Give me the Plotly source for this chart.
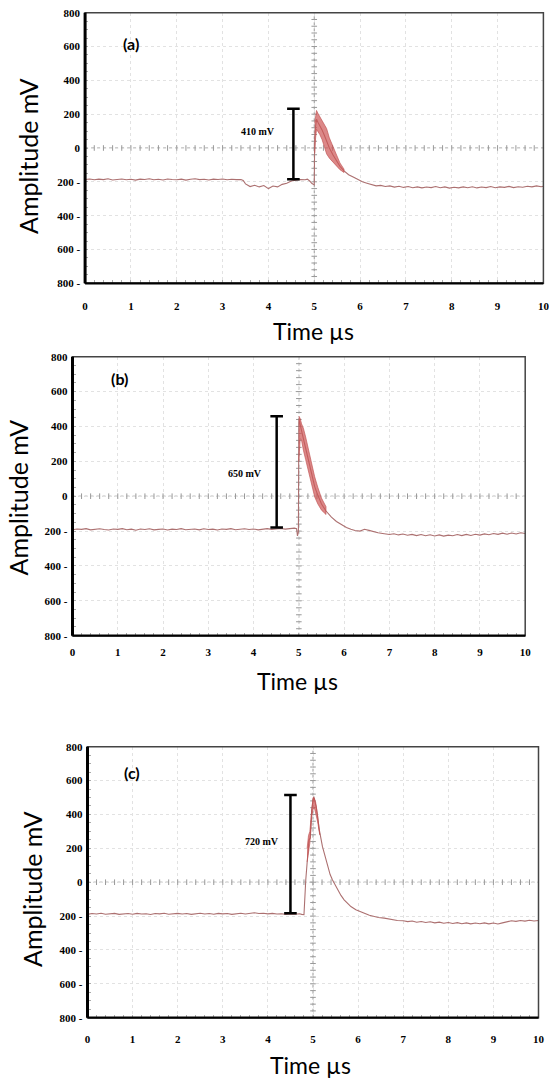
import plotly.graph_objects as go
import numpy as np

W, H = 549, 1082

# ---------------- data ----------------
T_A = [0.0,0.1,0.2,0.3,0.4,0.5,0.6,0.7,0.8,0.9,1.0,1.1,1.2,1.3,1.4,1.5,1.6,1.7,1.8,1.9,
       2.0,2.1,2.2,2.3,2.4,2.5,2.6,2.7,2.8,2.9,3.0,3.1,3.2,3.3,3.4,3.45,3.5,3.6,3.7,3.8,
       3.9,4.0,4.1,4.2,4.3,4.4,4.5,4.6,4.7,4.8,4.85,4.9,4.95,5.0,5.01,5.03,5.05,5.08,5.12,5.17,
       5.22,5.27,5.33,5.41,5.48,5.56,5.65,5.75,5.85,5.95,6.05,6.15,6.25,6.35,6.45,6.55,6.65,6.75,6.85,6.95,
       7.05,7.15,7.25,7.35,7.45,7.55,7.65,7.75,7.85,7.95,8.05,8.15,8.25,8.35,8.45,8.55,8.65,8.75,8.85,8.95,
       9.05,9.15,9.25,9.35,9.45,9.55,9.65,9.75,9.85,9.95,10.0]
V_A = [-186,-183,-188,-184,-187,-182,-189,-185,-183,-188,-185,-190,-184,-186,-182,-188,-185,-189,-183,-186,
       -188,-184,-190,-185,-182,-187,-185,-189,-184,-186,-183,-188,-185,-187,-186,-192,-212,-228,-220,-230,
       -222,-240,-225,-230,-215,-208,-195,-190,-186,-188,-184,-195,-210,-218,60,130,170,152,133,107,
       75,40,0,-42,-75,-108,-135,-158,-172,-188,-200,-208,-218,-224,-221,-228,-224,-231,-226,-233,
       -228,-235,-230,-236,-231,-234,-228,-235,-230,-237,-232,-236,-230,-235,-229,-236,-231,-234,-228,-235,
       -230,-233,-227,-234,-229,-232,-226,-230,-224,-229,-226]
BAND_T_A = [5.01,5.03,5.05,5.08,5.12,5.17,5.22,5.27,5.33,5.41,5.48,5.56,5.65]
BAND_HI_A = [150,200,222,205,187,165,140,115,60,5,-45,-88,-125]
BAND_LO_A = [-30,60,110,100,80,50,10,-35,-60,-88,-105,-128,-145]

T_B = [0.0,0.1,0.2,0.3,0.4,0.5,0.6,0.7,0.8,0.9,1.0,1.1,1.2,1.3,1.4,1.5,1.6,1.7,1.8,1.9,
       2.0,2.1,2.2,2.3,2.4,2.5,2.6,2.7,2.8,2.9,3.0,3.1,3.2,3.3,3.4,3.5,3.6,3.7,3.8,3.9,
       4.0,4.1,4.2,4.3,4.4,4.5,4.6,4.7,4.8,4.9,4.95,4.97,4.99,5.0,5.02,5.05,5.1,5.15,5.2,5.27,
       5.35,5.42,5.5,5.6,5.72,5.83,5.94,6.05,6.15,6.24,6.35,6.45,6.55,6.65,6.75,6.85,6.95,
       7.0,7.1,7.2,7.3,7.4,7.5,7.6,7.7,7.8,7.9,8.0,8.1,8.2,8.3,8.4,8.5,8.6,8.7,8.8,8.9,
       9.0,9.1,9.2,9.3,9.4,9.5,9.6,9.7,9.8,9.9,10.0]
V_B = [-192,-188,-190,-186,-193,-189,-187,-191,-194,-188,-190,-186,-192,-189,-195,-188,-191,-187,-193,-190,
       -188,-194,-189,-191,-186,-192,-190,-188,-193,-187,-191,-189,-194,-188,-190,-186,-192,-189,-187,-191,
       -188,-193,-189,-186,-190,-188,-185,-189,-184,-183,-186,-228,-205,445,420,380,330,275,215,140,
       55,5,-45,-85,-120,-145,-165,-180,-190,-197,-200,-190,-196,-204,-210,-214,-218,
       -220,-215,-222,-217,-224,-219,-226,-220,-227,-221,-228,-222,-229,-223,-227,-220,-226,-219,-225,-218,
       -223,-216,-221,-214,-219,-212,-218,-211,-217,-210,-214]
BAND_T_B = [5.0,5.03,5.06,5.1,5.15,5.2,5.27,5.35,5.42,5.5,5.6]
BAND_HI_B = [460,445,415,390,340,283,200,111,50,-11,-60]
BAND_LO_B = [200,330,320,264,210,149,75,-4,-45,-80,-105]

T_C = [0.0,0.1,0.2,0.3,0.4,0.5,0.6,0.7,0.8,0.9,1.0,1.1,1.2,1.3,1.4,1.5,1.6,1.7,1.8,1.9,
       2.0,2.1,2.2,2.3,2.4,2.5,2.6,2.7,2.8,2.9,3.0,3.1,3.2,3.3,3.4,3.5,3.6,3.7,3.8,3.9,
       4.0,4.1,4.2,4.3,4.4,4.5,4.6,4.7,4.75,4.8,4.84,4.88,4.91,4.94,4.97,5.0,5.02,5.04,5.07,5.1,
       5.14,5.21,5.27,5.32,5.38,5.43,5.54,5.62,5.69,5.77,5.84,5.95,6.05,6.14,6.25,6.35,6.45,6.58,6.7,6.87,
       7.0,7.1,7.2,7.3,7.4,7.5,7.6,7.7,7.8,7.9,8.0,8.1,8.2,8.3,8.4,8.5,8.6,8.7,8.8,8.9,
       9.0,9.1,9.2,9.3,9.4,9.5,9.6,9.7,9.8,9.9,10.0]
V_C = [-190,-185,-188,-183,-189,-186,-184,-190,-187,-185,-189,-184,-188,-186,-191,-185,-187,-183,-189,-186,
       -184,-188,-185,-190,-186,-183,-188,-185,-189,-184,-187,-185,-190,-186,-183,-188,-184,-180,-185,-183,
       -187,-184,-188,-186,-190,-187,-189,-186,-190,-192,14,190,250,260,428,480,505,480,446,390,
       309,210,150,92,45,14,-45,-78,-104,-128,-144,-162,-175,-183,-195,-203,-208,-212,-218,-226,
       -228,-233,-229,-236,-232,-238,-234,-240,-236,-242,-238,-244,-239,-245,-240,-246,-241,-245,-240,-246,
       -241,-247,-240,-232,-228,-231,-226,-230,-225,-229,-226]
BAND_T_C = [4.87,4.9,4.93,4.97,5.0,5.03,5.06,5.1,5.15]
BAND_HI_C = [200,275,300,440,500,495,470,400,300]
BAND_LO_C = [120,170,230,380,430,440,420,360,280]

LABELS = ["(a)", "(b)", "(c)"]
LABEL_POS = [(1.01, 620), (1.03, 677), (0.98, 645)]
DIFF_TEXT = ["410 mV", "650 mV", "720 mV"]
DIFF_TEXT_POS = [(3.77, 100), (3.81, 130), (3.86, 240)]
BAR_X = [4.545, 4.51, 4.5]
BAR_LO = [-185, -180, -183]
BAR_HI = [232, 459, 515]

Y_TICKS = [800, 600, 400, 200, 0, -200, -400, -600, -800]
Y_TICKTEXT = ["800", "600", "400", "200", "0", "200 -", "400 -", "600 -", "800 -"]
X_TICKS = [0, 1, 2, 3, 4, 5, 6, 7, 8, 9, 10]

# ---------------- layout geometry (pixels) ----------------
# (left, right, top, bottom) of each plot area
PANELS = [(85.1, 543.4, 12.7, 283.3), (72.5, 525.2, 356.7, 635.7), (87.5, 538.5, 746.7, 1017.7)]
XLAB_STANDOFF = [15, 8, 13]
YTITLE_POS = [(28, 156), (17.5, 498), (32, 889)]
XTITLE_POS = [(313, 331), (297, 681), (310, 1065)]

def px(x):
    return x / W

def py(y):
    return 1 - y / H

series = [(T_A, V_A, BAND_T_A, BAND_HI_A, BAND_LO_A),
          (T_B, V_B, BAND_T_B, BAND_HI_B, BAND_LO_B),
          (T_C, V_C, BAND_T_C, BAND_HI_C, BAND_LO_C)]

fig = go.Figure()
TRACE_COL = "rgb(172,112,112)"
BAND_COL = "rgba(205,85,85,0.7)"
GRID_COL = "#e2e2e2"
CROSS_COL = "#999999"
serif = "Liberation Serif"
sans = "Lato"

shapes = []
annotations = []
for i, (t, v, bt, bhi, blo) in enumerate(series):
    sfx = "" if i == 0 else str(i + 1)
    xa, ya = "x" + sfx, "y" + sfx
    # crosshair tick marks (decoration)
    cx = np.arange(0.2, 10.0, 0.2)
    fig.add_trace(go.Scatter(x=cx, y=np.zeros_like(cx), mode="markers", xaxis=xa, yaxis=ya,
                             marker=dict(symbol="line-ns", size=4, line=dict(color=CROSS_COL, width=1)),
                             hoverinfo="skip", showlegend=False))
    cy = np.arange(-760, 800, 40)
    fig.add_trace(go.Scatter(x=np.full(cy.shape, 5.0), y=cy, mode="markers", xaxis=xa, yaxis=ya,
                             marker=dict(symbol="line-ew", size=4, line=dict(color=CROSS_COL, width=1)),
                             hoverinfo="skip", showlegend=False))
    # main trace
    fig.add_trace(go.Scatter(x=t, y=v, mode="lines", xaxis=xa, yaxis=ya,
                             line=dict(color=TRACE_COL, width=1.1), showlegend=False))
    # noisy band around the pulse
    fig.add_trace(go.Scatter(x=list(bt) + list(bt)[::-1], y=list(bhi) + list(blo)[::-1],
                             mode="lines", fill="toself", fillcolor=BAND_COL, xaxis=xa, yaxis=ya,
                             line=dict(color="rgba(190,80,80,0.8)", width=0.8), showlegend=False))
    # amplitude bar
    fig.add_trace(go.Scatter(x=[BAR_X[i], BAR_X[i]], y=[BAR_LO[i], BAR_HI[i]], mode="lines+markers",
                             xaxis=xa, yaxis=ya, line=dict(color="black", width=2.5),
                             marker=dict(symbol="line-ew", size=9, line=dict(color="black", width=2.5)),
                             showlegend=False))
    l, r, tp, bt_ = PANELS[i]
    fig.layout["xaxis" + sfx] = dict(domain=[px(l), px(r)], anchor=ya, range=[0, 10],
                                     tickvals=X_TICKS, ticks="", showline=False, zeroline=False,
                                     showgrid=True, gridcolor=GRID_COL, griddash="dot", gridwidth=1,
                                     tickfont=dict(family=serif, size=11, color="black", weight="bold"),
                                     ticklabelstandoff=XLAB_STANDOFF[i], ticklabeloverflow="allow",
                                     minor=dict(ticks="inside", dtick=0.2, ticklen=3, tickcolor="#aaa",
                                                showgrid=False),
                                     mirror="allticks", automargin=False)
    fig.layout["yaxis" + sfx] = dict(domain=[py(bt_), py(tp)], anchor=xa, range=[-800, 800],
                                     tickvals=Y_TICKS, ticktext=Y_TICKTEXT, ticks="", showline=False,
                                     zeroline=False, showgrid=True, gridcolor=GRID_COL, griddash="dot",
                                     gridwidth=1, ticklabeloverflow="allow",
                                     tickfont=dict(family=serif, size=11, color="black", weight="bold"),
                                     ticklabelstandoff=4,
                                     minor=dict(ticks="inside", dtick=50, ticklen=3, tickcolor="#aaa",
                                                showgrid=False),
                                     mirror="allticks", automargin=False)
    xd, yd = xa + " domain", ya + " domain"
    # crosshair lines
    shapes.append(dict(type="line", xref=xa, yref=yd, x0=5, x1=5, y0=0, y1=1,
                       line=dict(color=CROSS_COL, width=1, dash="dot"), layer="below"))
    shapes.append(dict(type="line", xref=xd, yref=ya, x0=0, x1=1, y0=0, y1=0,
                       line=dict(color=CROSS_COL, width=1, dash="dot"), layer="below"))
    # frame
    shapes.append(dict(type="rect", xref=xd, yref=yd, x0=0, x1=1, y0=0, y1=1,
                       line=dict(color="#444", width=1.5)))
    shapes.append(dict(type="line", xref=xd, yref=yd, x0=0, x1=0, y0=0, y1=1,
                       line=dict(color="black", width=3)))
    shapes.append(dict(type="line", xref=xd, yref=yd, x0=0, x1=1, y0=0, y1=0,
                       line=dict(color="black", width=2.2)))
    # panel label
    annotations.append(dict(x=LABEL_POS[i][0], y=LABEL_POS[i][1], xref=xa, yref=ya, text=LABELS[i],
                            showarrow=False, xanchor="center", yanchor="middle",
                            font=dict(family=sans, size=16, color="black", weight="bold")))
    annotations.append(dict(x=DIFF_TEXT_POS[i][0], y=DIFF_TEXT_POS[i][1], xref=xa, yref=ya,
                            text=DIFF_TEXT[i], showarrow=False, xanchor="center", yanchor="middle",
                            font=dict(family=serif, size=10, color="black", weight="bold")))
    annotations.append(dict(x=px(YTITLE_POS[i][0]), y=py(YTITLE_POS[i][1]), xref="paper", yref="paper",
                            text="Amplitude mV", textangle=-90, showarrow=False,
                            xanchor="center", yanchor="middle",
                            font=dict(family=sans, size=25, color="black")))
    annotations.append(dict(x=px(XTITLE_POS[i][0]), y=py(XTITLE_POS[i][1]), xref="paper", yref="paper",
                            text="Time µs", showarrow=False, xanchor="center", yanchor="middle",
                            font=dict(family=sans, size=23, color="black")))

fig.update_layout(width=W, height=H, margin=dict(l=0, r=0, t=0, b=0, pad=0, autoexpand=False),
                  paper_bgcolor="white", plot_bgcolor="white", showlegend=False,
                  shapes=shapes, annotations=annotations)

fig.write_html("out.html", config={"displayModeBar": False},
               post_script="document.body.style.margin='0';document.body.style.padding='0';")
